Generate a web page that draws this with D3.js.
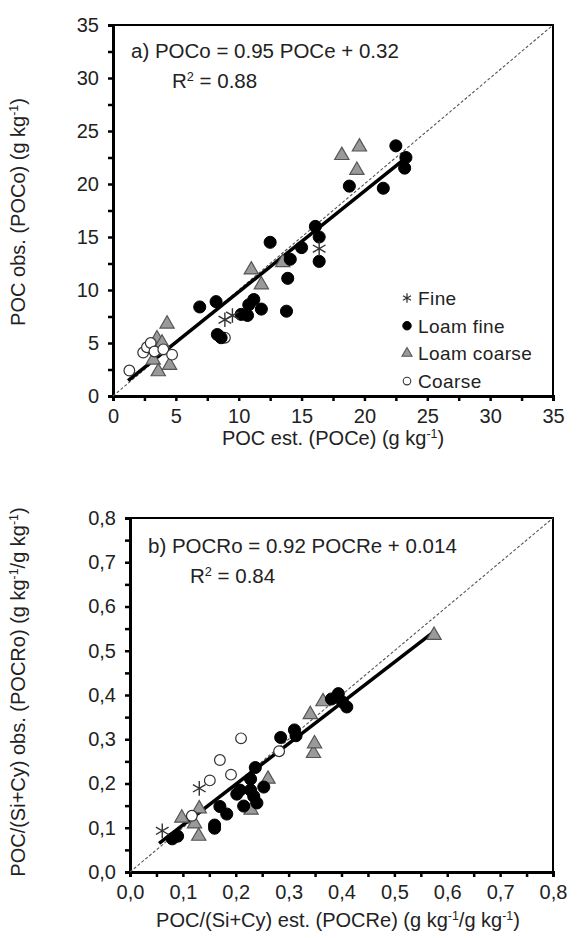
<!DOCTYPE html>
<html>
<head>
<meta charset="utf-8">
<script src="https://cdn.jsdelivr.net/npm/d3@7"></script>
<style>
  body { margin: 0; background: #fff; }
  svg text { font-family: "Liberation Sans", Arial, sans-serif; fill: #222; }
</style>
</head>
<body>
<div id="chart"></div>
<script>
// panel a) POC (g kg-1), points as [estimated, observed]
const fineA = [[8.9, 7.2], [9.5, 7.6], [16.4, 13.9]];
const loamFineA = [
  [6.9, 8.4], [8.2, 8.9], [8.3, 5.8], [8.6, 5.5], [10.2, 7.7], [10.7, 7.6],
  [10.8, 8.6], [11.2, 9.1], [11.8, 8.2], [12.5, 14.5], [13.8, 8.0], [13.9, 11.1],
  [14.1, 12.9], [15.0, 14.0], [16.1, 16.0], [16.4, 15.0], [16.4, 12.7],
  [18.8, 19.8], [21.5, 19.6], [22.5, 23.6], [23.3, 22.5], [23.2, 21.5]
];
const loamCoarseA = [
  [3.2, 3.4], [3.5, 5.4], [3.6, 4.3], [3.6, 2.3], [3.9, 5.0], [4.3, 6.8],
  [4.5, 2.9], [11.0, 11.9], [11.8, 10.5], [13.5, 12.6], [18.2, 22.7],
  [19.6, 23.5], [19.4, 21.3]
];
const coarseA = [
  [1.3, 2.4], [2.4, 4.1], [2.7, 4.6], [3.0, 5.0], [3.3, 4.2], [4.0, 4.4],
  [4.7, 3.9], [8.9, 5.5]
];
const fitA = { slope: 0.95, intercept: 0.32, from: 1.2, to: 23.3 };

// panel b) POC/(Si+Cy)
const fineB = [[0.061, 0.093], [0.131, 0.189]];
const loamFineB = [
  [0.080, 0.075], [0.090, 0.081], [0.160, 0.106], [0.160, 0.099], [0.170, 0.148],
  [0.183, 0.131], [0.202, 0.176], [0.208, 0.185], [0.215, 0.149], [0.228, 0.210],
  [0.228, 0.185], [0.234, 0.171], [0.237, 0.236], [0.240, 0.156], [0.253, 0.192],
  [0.285, 0.304], [0.311, 0.321], [0.314, 0.308], [0.381, 0.391], [0.394, 0.403],
  [0.402, 0.384], [0.410, 0.373]
];
const loamCoarseB = [
  [0.098, 0.122], [0.122, 0.109], [0.130, 0.081], [0.131, 0.143], [0.229, 0.140],
  [0.261, 0.210], [0.341, 0.356], [0.347, 0.268], [0.349, 0.290], [0.365, 0.385],
  [0.575, 0.535]
];
const coarseB = [
  [0.117, 0.127], [0.151, 0.207], [0.170, 0.253], [0.191, 0.220], [0.210, 0.302],
  [0.282, 0.273]
];
const fitB = { slope: 0.92, intercept: 0.014, from: 0.055, to: 0.575 };

const legendLabels = ["Fine", "Loam fine", "Loam coarse", "Coarse"];

const svg = d3.select("#chart").append("svg")
  .attr("width", 577).attr("height", 938);

const symbols = {
  fine: d3.symbol().type(d3.symbolAsterisk),
  loamFine: d3.symbol().type(d3.symbolCircle),
  loamCoarse: d3.symbol().type(d3.symbolTriangle),
  coarse: d3.symbol().type(d3.symbolCircle)
};
const styles = {
  fine: { fill: "none", stroke: "#333", sw: 1.4, size: 150 },
  loamFine: { fill: "#000", stroke: "#000", sw: 1, size: 115 },
  loamCoarse: { fill: "#9a9a9a", stroke: "#555", sw: 1.2, size: 88 },
  coarse: { fill: "#fff", stroke: "#333", sw: 1.2, size: 90 }
};

function superText(sel, parts) {
  // parts: [text, isSuper]
  parts.forEach(([t, sup]) => {
    sel.append("tspan")
      .attr("baseline-shift", sup ? "super" : null)
      .attr("font-size", sup ? "0.62em" : null)
      .text(t);
  });
}

function drawPanel(cfg) {
  const { x0, x1, y0, y1, max, step, minor, fmt } = cfg;
  const g = svg.append("g");
  const x = d3.scaleLinear().domain([0, max]).range([x0, x1]);
  const y = d3.scaleLinear().domain([0, max]).range([y1, y0]);
  const ticks = d3.range(0, max + minor / 2, minor);
  const isMajor = d => Math.abs(d / step - Math.round(d / step)) < 1e-6;

  // frame
  g.append("rect")
    .attr("x", x0).attr("y", y0)
    .attr("width", x1 - x0).attr("height", y1 - y0)
    .attr("fill", "none").attr("stroke", "#000").attr("stroke-width", 2);

  const xAxis = g.append("g")
    .attr("transform", `translate(0,${y1})`)
    .call(d3.axisBottom(x).tickValues(ticks).tickSize(5).tickPadding(8)
      .tickFormat(d => isMajor(d) ? fmt(d) : ""));
  const yAxis = g.append("g")
    .attr("transform", `translate(${x0},0)`)
    .call(d3.axisLeft(y).tickValues(ticks).tickSize(5).tickPadding(9)
      .tickFormat(d => isMajor(d) ? fmt(d) : ""));
  [xAxis, yAxis].forEach(a => {
    a.select(".domain").attr("stroke", "#000").attr("stroke-width", 3);
    a.selectAll(".tick line").attr("stroke", "#000").attr("stroke-width", 2.5);
    a.selectAll(".tick text").attr("font-size", 20).attr("fill", "#222")
      .style("font-family", "'Liberation Sans', Arial, sans-serif");
  });

  // 1:1 line
  g.append("path")
    .datum([0, max])
    .attr("fill", "none").attr("stroke", "#555").attr("stroke-width", 1.1)
    .attr("stroke-dasharray", "3,2")
    .attr("d", d3.line().x(d => x(d)).y(d => y(d)));

  // regression line
  const f = cfg.fit;
  g.append("path")
    .datum([f.from, f.to])
    .attr("fill", "none").attr("stroke", "#000").attr("stroke-width", 3.5)
    .attr("d", d3.line().x(d => x(d)).y(d => y(f.slope * d + f.intercept)));

  // points
  const series = [
    ["loamCoarse", cfg.loamCoarse], ["coarse", cfg.coarse],
    ["loamFine", cfg.loamFine], ["fine", cfg.fine]
  ];
  series.forEach(([key, pts]) => {
    const s = styles[key];
    g.selectAll(null).data(pts).enter().append("path")
      .attr("transform", d => `translate(${x(d[0])},${y(d[1])})`)
      .attr("d", symbols[key].size(s.size)())
      .attr("fill", s.fill).attr("stroke", s.stroke).attr("stroke-width", s.sw);
  });
  return { g, x, y };
}

const commaFmt = d => d3.format(".1f")(d).replace(".", ",");

drawPanel({
  x0: 113, x1: 553, y0: 25, y1: 396, max: 35, step: 5, minor: 2.5,
  fmt: d => d3.format("d")(d),
  fit: fitA, fine: fineA, loamFine: loamFineA, loamCoarse: loamCoarseA, coarse: coarseA
});
drawPanel({
  x0: 130, x1: 553, y0: 518, y1: 872, max: 0.8, step: 0.1, minor: 0.05,
  fmt: commaFmt,
  fit: fitB, fine: fineB, loamFine: loamFineB, loamCoarse: loamCoarseB, coarse: coarseB
});

// equations
svg.append("text").attr("x", 131).attr("y", 58).attr("font-size", 20.5)
  .text("a) POCo = 0.95 POCe + 0.32");
superText(svg.append("text").attr("x", 172).attr("y", 88).attr("font-size", 20.5),
  [["R", false], ["2", true], [" = 0.88", false]]);
svg.append("text").attr("x", 148).attr("y", 553).attr("font-size", 20.5)
  .text("b) POCRo = 0.92 POCRe + 0.014");
superText(svg.append("text").attr("x", 190).attr("y", 583).attr("font-size", 20.5),
  [["R", false], ["2", true], [" = 0.84", false]]);

// legend (panel a)
const legendKeys = ["fine", "loamFine", "loamCoarse", "coarse"];
const leg = svg.append("g");
legendKeys.forEach((k, i) => {
  const s = styles[k];
  const yy = 298 + i * 27.7;
  leg.append("path")
    .attr("transform", `translate(407,${yy})`)
    .attr("d", symbols[k].size(s.size * (k === "fine" ? 0.4 : 0.5))())
    .attr("fill", s.fill).attr("stroke", s.stroke).attr("stroke-width", s.sw * 0.9);
  leg.append("text").attr("x", 418).attr("y", yy + 7)
    .attr("font-size", 19).attr("letter-spacing", 0.4)
    .text(legendLabels[i]);
});

// axis titles
superText(svg.append("text").attr("x", 333).attr("y", 445).attr("font-size", 20)
  .attr("text-anchor", "middle"),
  [["POC est. (POCe) (g kg", false], ["-1", true], [")", false]]);
superText(svg.append("text").attr("transform", "translate(25,212) rotate(-90)")
  .attr("font-size", 20).attr("text-anchor", "middle"),
  [["POC obs. (POCo) (g kg", false], ["-1", true], [")", false]]);
superText(svg.append("text").attr("x", 338).attr("y", 927).attr("font-size", 20)
  .attr("text-anchor", "middle"),
  [["POC/(Si+Cy) est. (POCRe) (g kg", false], ["-1", true], ["/g kg", false], ["-1", true], [")", false]]);
superText(svg.append("text").attr("transform", "translate(25,692) rotate(-90)")
  .attr("font-size", 20).attr("text-anchor", "middle"),
  [["POC/(Si+Cy) obs. (POCRo) (g kg", false], ["-1", true], ["/g kg", false], ["-1", true], [")", false]]);
</script>
</body>
</html>
